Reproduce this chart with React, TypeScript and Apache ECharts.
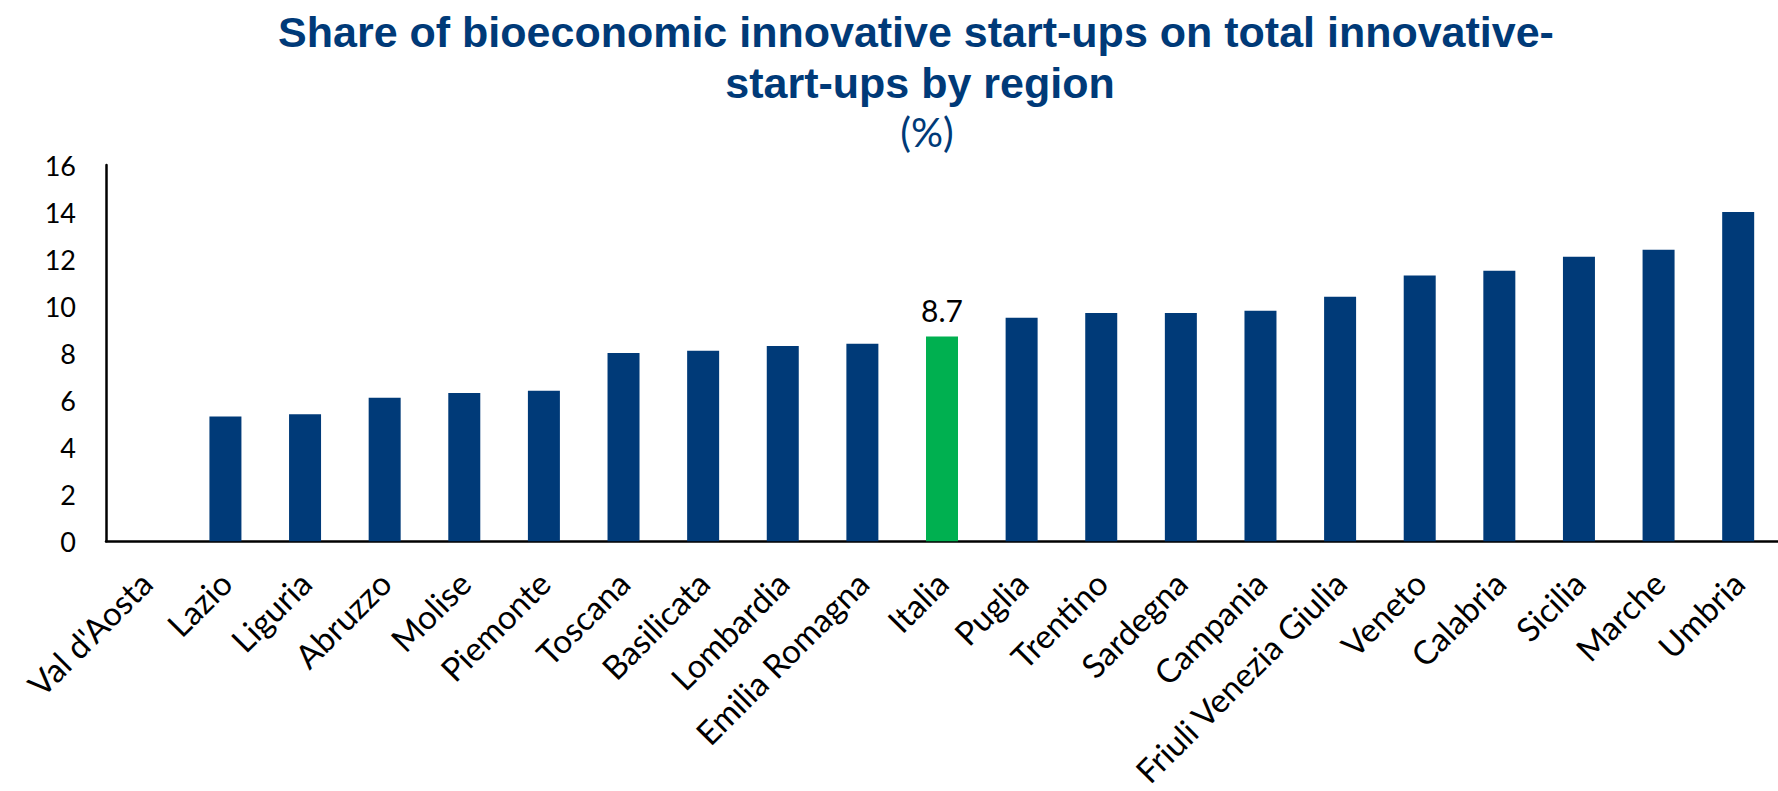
import React, { useEffect, useRef } from "react";
import * as echarts from "echarts";

const categories: string[] = [
  "Val d'Aosta", "Lazio", "Liguria", "Abruzzo", "Molise", "Piemonte", "Toscana",
  "Basilicata", "Lombardia", "Emilia Romagna", "Italia", "Puglia", "Trentino",
  "Sardegna", "Campania", "Friuli Venezia Giulia", "Veneto", "Calabria", "Sicilia",
  "Marche", "Umbria",
];
const shares: number[] = [
  0, 5.3, 5.4, 6.1, 6.3, 6.4, 8.0, 8.1, 8.3, 8.4, 8.7, 9.5, 9.7, 9.7, 9.8, 10.4,
  11.3, 11.5, 12.1, 12.4, 14.0,
];
const highlighted = "Italia";
const yTicks = { min: 0, max: 16, interval: 2 };
const titleLine1 = "Share of bioeconomic innovative start-ups on total innovative-";
const titleLine2 = "start-ups by region";
const unitLabel = "(%)";

const BLUE = "#003A78";
const GREEN = "#00B050";
const FONT = "Lato, 'Open Sans', sans-serif";
const TITLE_FONT = "'Liberation Sans', Arial, sans-serif";

export default function App() {
  const ref = useRef<HTMLDivElement>(null);
  useEffect(() => {
    if (!ref.current) return;
    const chart = echarts.init(ref.current, undefined, { renderer: "svg" });
    const titleStyle = { fontFamily: TITLE_FONT, fontWeight: "bold", fontSize: 43, lineHeight: 50, color: BLUE };
    chart.setOption({
      animation: false,
      backgroundColor: "#ffffff",
      title: [
        { text: titleLine1, left: 916, top: 7, padding: 0, textAlign: "center", textStyle: titleStyle },
        { text: titleLine2, left: 920, top: 58, padding: 0, textAlign: "center", textStyle: titleStyle },
        {
          text: unitLabel,
          left: 927,
          top: 110,
          padding: 0,
          textAlign: "center",
          textStyle: { fontFamily: FONT, fontWeight: "normal", fontSize: 40, lineHeight: 44, color: BLUE },
        },
      ],
      grid: { left: 106, right: -8, top: 165, bottom: 249, containLabel: false },
      xAxis: {
        type: "category",
        data: categories,
        axisLine: { show: true, lineStyle: { color: "#000", width: 2.5 } },
        axisTick: { show: false },
        axisLabel: {
          interval: 0,
          rotate: 45,
          margin: 36,
          fontFamily: FONT,
          fontSize: 33,
          color: "#000",
        },
      },
      yAxis: {
        type: "value",
        min: yTicks.min,
        max: yTicks.max,
        interval: yTicks.interval,
        axisLine: { show: true, lineStyle: { color: "#000", width: 2.5 } },
        axisTick: { show: false },
        splitLine: { show: false },
        axisLabel: { margin: 30, fontFamily: FONT, fontSize: 27, color: "#000" },
      },
      series: [
        {
          type: "bar",
          barWidth: 32,
          data: shares.map((v, i) => ({
            value: v,
            itemStyle: { color: categories[i] === highlighted ? GREEN : BLUE },
            label: {
              show: categories[i] === highlighted,
              position: "top",
              distance: 12,
              fontFamily: FONT,
              fontSize: 30,
              color: "#000",
              formatter: (p: any) => Number(p.value).toFixed(1),
            },
          })),
        },
      ],
    });
    return () => chart.dispose();
  }, []);
  return (
    <div
      ref={ref}
      style={{ position: "fixed", left: 0, top: 0, width: "100vw", height: "100vh" }}
    />
  );
}
